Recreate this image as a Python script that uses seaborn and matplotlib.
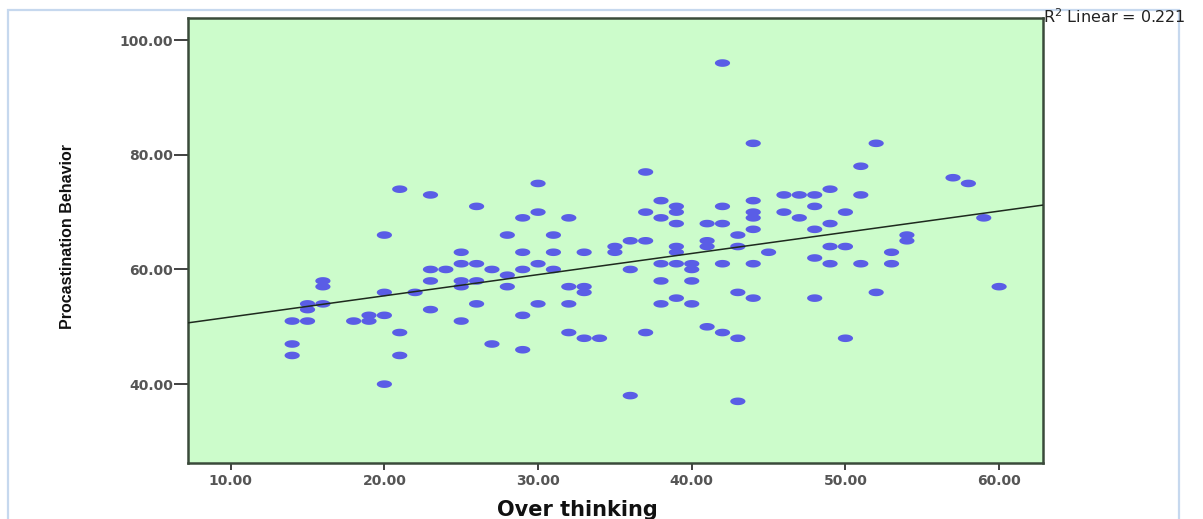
import matplotlib
matplotlib.use('Agg')
import matplotlib.pyplot as plt
from matplotlib.patches import Rectangle
from matplotlib.ticker import FormatStrFormatter
import numpy as np
import pandas as pd
import seaborn as sns

# Valores (Over thinking vs Procastination Behavior)
over_thinking = [
    14, 14, 14,
    15, 15, 15,
    16, 16, 16,
    18,
    19, 19,
    20, 20, 20, 20,
    21, 21, 21,
    22,
    23, 23, 23, 23,
    24,
    25, 25, 25, 25, 25,
    26, 26, 26, 26,
    27, 27,
    28, 28, 28,
    29, 29, 29, 29, 29,
    30, 30, 30, 30,
    31, 31, 31,
    32, 32, 32, 32,
    33, 33, 33, 33,
    34,
    35, 35,
    36, 36, 36,
    37, 37, 37, 37,
    38, 38, 38, 38, 38,
    39, 39, 39, 39, 39, 39, 39,
    40, 40, 40, 40,
    41, 41, 41, 41,
    42, 42, 42, 42, 42,
    43, 43, 43, 43, 43,
    44, 44, 44, 44, 44, 44, 44,
    45,
    46, 46,
    47, 47,
    48, 48, 48, 48, 48,
    49, 49, 49, 49,
    50, 50, 50,
    51, 51, 51,
    52, 52,
    53, 53,
    54, 54,
    57,
    58,
    59,
    60,
]
procrastination = [
    51, 47, 45,
    51, 54, 53,
    58, 57, 54,
    51,
    52, 51,
    66, 56, 52, 40,
    74, 49, 45,
    56,
    73, 60, 58, 53,
    60,
    63, 61, 58, 57, 51,
    71, 61, 58, 54,
    60, 47,
    66, 59, 57,
    69, 63, 60, 52, 46,
    75, 70, 61, 54,
    66, 63, 60,
    69, 57, 54, 49,
    63, 57, 56, 48,
    48,
    64, 63,
    65, 60, 38,
    77, 70, 65, 49,
    72, 69, 61, 58, 54,
    71, 70, 68, 64, 63, 61, 55,
    61, 60, 58, 54,
    68, 65, 64, 50,
    96, 71, 68, 61, 49,
    66, 64, 56, 48, 37,
    82, 72, 70, 69, 67, 61, 55,
    63,
    73, 70,
    73, 69,
    73, 71, 67, 62, 55,
    74, 68, 64, 61,
    70, 64, 48,
    78, 73, 61,
    82, 56,
    63, 61,
    66, 65,
    76,
    75,
    69,
    57,
]
x_ticks = [10, 20, 30, 40, 50, 60]
y_ticks = [40, 60, 80, 100]
r2_label = "R$^2$ Linear = 0.221"

df = pd.DataFrame({"Over thinking": over_thinking,
                   "Procastination Behavior": procrastination})

sns.set_style("white")
plt.rcParams['font.family'] = ['DejaVu Sans']

fig = plt.figure(figsize=(12.03, 5.19), dpi=100)
fig.patch.set_facecolor("white")

# marco azul claro alrededor (captura de SPSS)
fig.add_artist(Rectangle((8 / 1203, -0.1), 1171 / 1203, 1.1 - 10 / 519,
                         transform=fig.transFigure, fill=False,
                         edgecolor="#c6d8ee", lw=1.6, zorder=0))

ax = fig.add_axes([0.1565, 0.1085, 0.7103, 0.8562])
ax.set_facecolor("#ccfccb")
ax.set_xlim(7.24, 62.84)
ax.set_ylim(26.3, 103.8)

# marcador eliptico (la imagen original esta estirada en horizontal)
t = np.linspace(0, 2 * np.pi, 41)
ellipse = list(zip(np.cos(t), 0.5 * np.sin(t)))

sns.scatterplot(data=df, x="Over thinking", y="Procastination Behavior",
                marker=ellipse, s=120, color="#5a5de6", edgecolor="none",
                linewidth=0, ax=ax, zorder=3)
sns.regplot(data=df, x="Over thinking", y="Procastination Behavior",
            scatter=False, ci=None, truncate=False, ax=ax,
            line_kws=dict(color="#1e2a1e", lw=1.1, zorder=4))
ax.set_xlim(7.24, 62.84)
ax.set_ylim(26.3, 103.8)

for side in ["left", "right", "top", "bottom"]:
    ax.spines[side].set_visible(True)
    ax.spines[side].set_color("#3a4a3a")
    ax.spines[side].set_linewidth(1.8)

ax.set_xticks(x_ticks)
ax.set_yticks(y_ticks)
ax.xaxis.set_major_formatter(FormatStrFormatter("%.2f"))
ax.yaxis.set_major_formatter(FormatStrFormatter("%.2f"))
ax.tick_params(axis="y", direction="out", length=10, width=1.3, color="#333333",
               pad=1, labelsize=10, labelcolor="#555555", left=True)
ax.tick_params(axis="x", direction="out", length=5, width=1.3, color="#333333",
               pad=3, labelsize=10, labelcolor="#555555", bottom=True)
for lbl in ax.get_xticklabels() + ax.get_yticklabels():
    lbl.set_fontweight("bold")

ax.set_xlabel("Over thinking", fontsize=15, fontweight="bold", color="#111111")
ax.xaxis.set_label_coords(0.455, -0.084)
ax.set_ylabel("Procastination Behavior", fontsize=11.5, fontweight="bold",
              color="#111111", family=["Liberation Sans", "DejaVu Sans"])
ax.yaxis.set_label_coords(-0.132, 0.508)

fig.text(1043 / 1203, 1 - 23 / 519, r2_label, ha="left", va="baseline",
         fontsize=11.5, color="#222222")

fig.savefig("out.png", dpi=100)
